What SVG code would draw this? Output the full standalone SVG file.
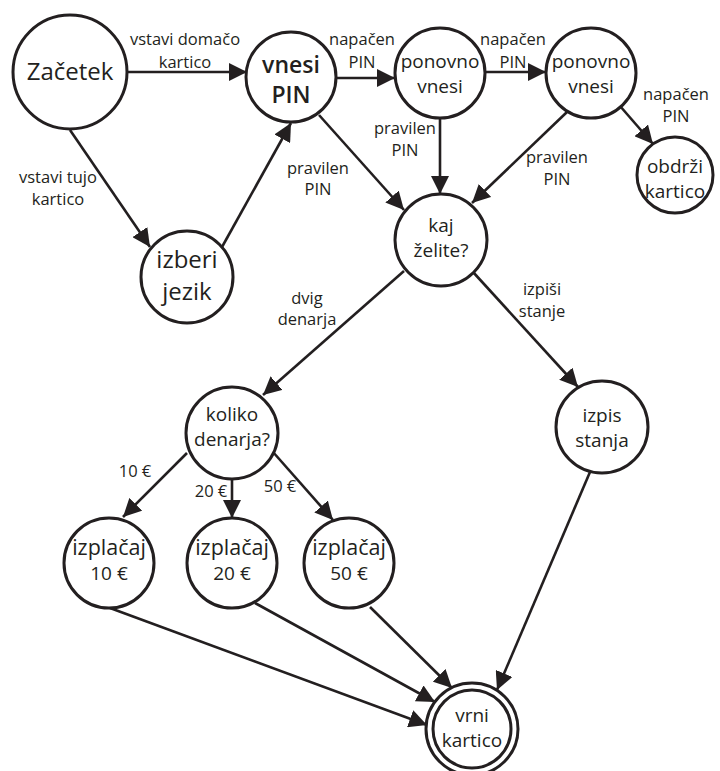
<svg xmlns="http://www.w3.org/2000/svg" width="720" height="771" viewBox="0 0 720 771">
  <style>
    .node circle { fill: #ffffff; stroke: #231f20; stroke-width: 3; }
    .node text { font-family: "Open Sans", "Noto Sans", sans-serif; fill: #231f20; text-anchor: middle; }
    .edge line { stroke: #231f20; stroke-width: 2.6; marker-end: url(#arrow); }
    .lbl { font-family: "Open Sans", "Noto Sans", sans-serif; font-size: 16.5px; fill: #231f20; text-anchor: middle; }
    .t19 { font-size: 19px; }
    .t21 { font-size: 21.5px; }
    .t24 { font-size: 24px; }
    .bold { font-size: 23px; font-weight: 600; }
  </style>
  <defs>
    <marker id="arrow" markerUnits="userSpaceOnUse" markerWidth="18" markerHeight="18" refX="18" refY="9" orient="auto">
      <path d="M0,0 L18,9 L0,18 Z" fill="#231f20"/>
    </marker>
  </defs>
  <rect width="720" height="771" fill="#ffffff"/>

  <!-- connectors -->
  <g id="edges" class="edge">
    <line x1="127" y1="72" x2="247" y2="72"/>
    <line x1="336" y1="78" x2="395" y2="78"/>
    <line x1="485" y1="72" x2="546" y2="72"/>
    <line x1="620" y1="106" x2="653" y2="144"/>
    <line x1="70" y1="130" x2="150" y2="247"/>
    <line x1="222" y1="247" x2="291" y2="123"/>
    <line x1="319" y1="115" x2="404" y2="210"/>
    <line x1="440" y1="118" x2="440" y2="194"/>
    <line x1="567" y1="112" x2="472" y2="203"/>
    <line x1="404" y1="271" x2="263" y2="395"/>
    <line x1="473" y1="272" x2="578" y2="387"/>
    <line x1="187" y1="453" x2="123" y2="517"/>
    <line x1="232" y1="479" x2="232" y2="518"/>
    <line x1="273" y1="452" x2="333" y2="520"/>
    <line x1="110" y1="608" x2="427" y2="725"/>
    <line x1="255" y1="603" x2="435" y2="702"/>
    <line x1="370" y1="607" x2="452" y2="688"/>
    <line x1="590" y1="472" x2="497" y2="690"/>
  </g>

  <!-- connector labels -->
  <g id="labels" class="lbl">
    <text x="185" y="45">vstavi domačo</text>
    <text x="185" y="68">kartico</text>
    <text x="362" y="45">napačen</text>
    <text x="362" y="68">PIN</text>
    <text x="513" y="45">napačen</text>
    <text x="513" y="68">PIN</text>
    <text x="676" y="100">napačen</text>
    <text x="676" y="122">PIN</text>
    <text x="405" y="134">pravilen</text>
    <text x="405" y="156">PIN</text>
    <text x="557" y="163">pravilen</text>
    <text x="557" y="185">PIN</text>
    <text x="318" y="174">pravilen</text>
    <text x="318" y="195">PIN</text>
    <text x="58" y="183">vstavi tujo</text>
    <text x="58" y="205">kartico</text>
    <text x="307" y="304">dvig</text>
    <text x="307" y="325">denarja</text>
    <text x="542" y="295">izpiši</text>
    <text x="542" y="317">stanje</text>
    <text x="135" y="477">10 €</text>
    <text x="211" y="497">20 €</text>
    <text x="280" y="492">50 €</text>
  </g>

  <!-- states -->
  <g id="zacetek" class="node">
    <circle cx="70" cy="72" r="57"/>
    <text class="t24" x="70" y="80">Začetek</text>
  </g>
  <g id="vnesi-pin" class="node">
    <circle cx="291" cy="77" r="45"/>
    <text class="bold" x="291" y="73">vnesi</text>
    <text class="bold" x="291" y="103">PIN</text>
  </g>
  <g id="ponovno-vnesi-1" class="node">
    <circle cx="440" cy="73" r="45"/>
    <text class="t19" x="440" y="68">ponovno</text>
    <text class="t19" x="440" y="93">vnesi</text>
  </g>
  <g id="ponovno-vnesi-2" class="node">
    <circle cx="591" cy="73" r="45"/>
    <text class="t19" x="591" y="68">ponovno</text>
    <text class="t19" x="591" y="93">vnesi</text>
  </g>
  <g id="obdrzi-kartico" class="node">
    <circle cx="675" cy="175" r="38"/>
    <text class="t19" x="675" y="173">obdrži</text>
    <text class="t19" x="675" y="198">kartico</text>
  </g>
  <g id="kaj-zelite" class="node">
    <circle cx="441" cy="240" r="46"/>
    <text class="t19" x="441" y="232">kaj</text>
    <text class="t19" x="441" y="257">želite?</text>
  </g>
  <g id="izberi-jezik" class="node">
    <circle cx="187" cy="277" r="46"/>
    <text class="t24" x="187" y="268">izberi</text>
    <text class="t24" x="187" y="300">jezik</text>
  </g>
  <g id="koliko-denarja" class="node">
    <circle cx="232" cy="433" r="46"/>
    <text class="t19" x="232" y="421">koliko</text>
    <text class="t19" x="232" y="446">denarja?</text>
  </g>
  <g id="izpis-stanja" class="node">
    <circle cx="602" cy="427" r="46"/>
    <text class="t19" x="602" y="422">izpis</text>
    <text class="t19" x="602" y="447">stanja</text>
  </g>
  <g id="izplacaj-10" class="node">
    <circle cx="109" cy="563" r="45"/>
    <text class="t21" x="109" y="555">izplačaj</text>
    <text class="t19" x="109" y="580">10 €</text>
  </g>
  <g id="izplacaj-20" class="node">
    <circle cx="232" cy="563" r="45"/>
    <text class="t21" x="232" y="555">izplačaj</text>
    <text class="t19" x="232" y="580">20 €</text>
  </g>
  <g id="izplacaj-50" class="node">
    <circle cx="349" cy="563" r="45"/>
    <text class="t21" x="349" y="555">izplačaj</text>
    <text class="t19" x="349" y="580">50 €</text>
  </g>
  <g id="vrni-kartico" class="node">
    <circle cx="472" cy="729" r="46"/>
    <circle cx="472" cy="729" r="39"/>
    <text class="t19" x="472" y="722">vrni</text>
    <text class="t19" x="472" y="747">kartico</text>
  </g>
</svg>
